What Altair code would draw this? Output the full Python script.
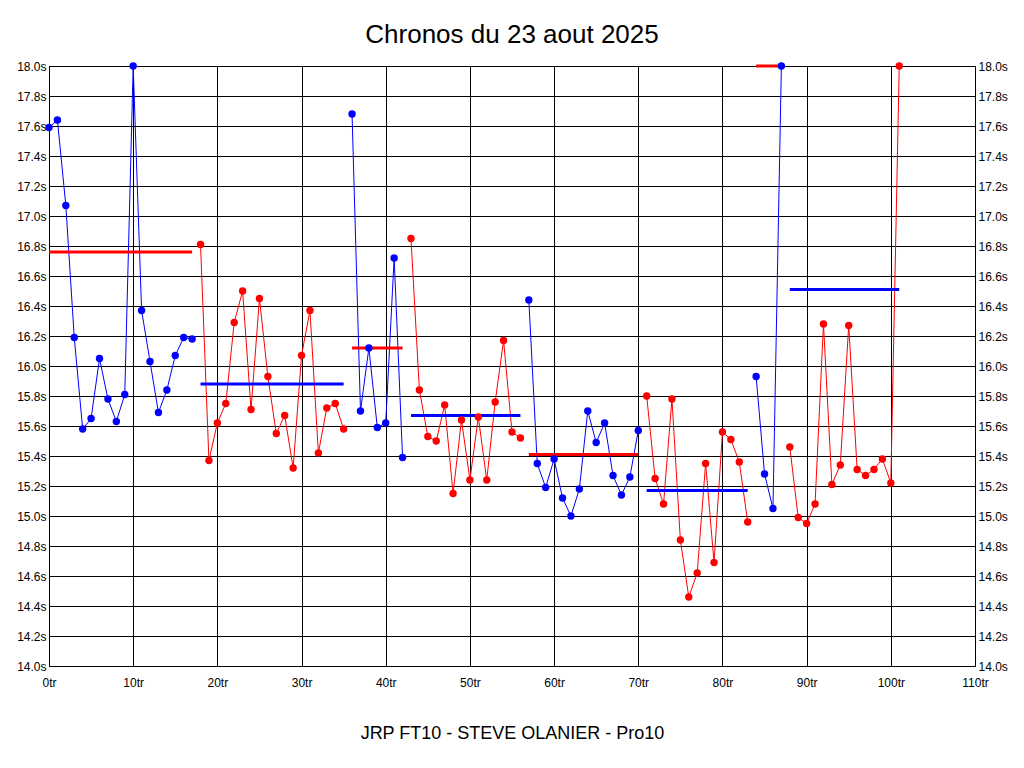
import altair as alt
import pandas as pd

# Lap times (s), displayed values (clipped at 18.0 s on the chart)
seg_laps = [
    list(range(0, 18)),
    list(range(18, 36)),
    list(range(36, 43)),
    list(range(43, 57)),
    list(range(57, 71)),
    list(range(71, 84)),
    list(range(84, 88)),
    list(range(88, 102)),
]
seg_colors = ["blue", "red", "blue", "red", "blue", "red", "blue", "red"]
seg_times = [
    [17.59, 17.64, 17.07, 16.19, 15.58, 15.65, 16.05, 15.78, 15.63, 15.81, 18.0, 16.37, 16.03, 15.69, 15.84, 16.07, 16.19, 16.18],
    [16.81, 15.37, 15.62, 15.75, 16.29, 16.50, 15.71, 16.45, 15.93, 15.55, 15.67, 15.32, 16.07, 16.37, 15.42, 15.72, 15.75, 15.58],
    [17.68, 15.70, 16.12, 15.59, 15.62, 16.72, 15.39],
    [16.85, 15.84, 15.53, 15.50, 15.74, 15.15, 15.64, 15.24, 15.66, 15.24, 15.76, 16.17, 15.56, 15.52],
    [16.44, 15.35, 15.19, 15.38, 15.12, 15.00, 15.18, 15.70, 15.49, 15.62, 15.27, 15.14, 15.26, 15.57],
    [15.80, 15.25, 15.08, 15.78, 14.84, 14.46, 14.62, 15.35, 14.69, 15.56, 15.51, 15.36, 14.96],
    [15.93, 15.28, 15.05, 18.0],
    [15.46, 14.99, 14.95, 15.08, 16.28, 15.21, 15.34, 16.27, 15.31, 15.27, 15.31, 15.38, 15.22, 18.0],
]
seg_avgs = [16.76, 15.88, 16.12, 15.67, 15.41, 15.17, 18.0, 16.51]

y_ticks = [round(14.0 + 0.2 * i, 1) for i in range(21)]
x_ticks = list(range(0, 111, 10))

rows = []
avg_rows = []
for i, (laps, times, col, avg) in enumerate(zip(seg_laps, seg_times, seg_colors, seg_avgs)):
    for lap, t in zip(laps, times):
        rows.append({"lap": lap, "time": t, "seg": i, "color": col})
    avg_rows.append({"start": laps[0], "end": laps[-1], "avg": avg,
                     "color": "red" if col == "blue" else "blue", "seg": i})
df = pd.DataFrame(rows)
dfa = pd.DataFrame(avg_rows)

FONT = "Liberation Sans"
color_scale = alt.Scale(domain=["blue", "red"], range=["#0000ff", "#ff0000"])
xs = alt.Scale(domain=[0, 110], nice=False, zero=False)
ys = alt.Scale(domain=[14.0, 18.0], nice=False, zero=False)

x_axis = alt.Axis(values=x_ticks, labelExpr="datum.value + 'tr'", grid=True, gridColor="#000000",
                  gridOpacity=1, gridWidth=1, ticks=False, domainColor="#000000", labelPadding=11,
                  labelFlush=False, labelFont=FONT, labelFontSize=12, labelColor="#000000",
                  title="JRP FT10 - STEVE OLANIER - Pro10", titleFont=FONT, titleFontSize=18,
                  titleFontWeight="normal", titleColor="#000000", titlePadding=36)
y_axis_left = alt.Axis(values=y_ticks, labelExpr="format(datum.value, '.1f') + 's'", grid=True,
                       gridColor="#000000", gridOpacity=1, gridWidth=1, ticks=False,
                       domainColor="#000000", labelPadding=3, labelFlush=False, labelFont=FONT,
                       labelFontSize=12, labelColor="#000000", title=None, orient="left")
y_axis_right = alt.Axis(values=y_ticks, labelExpr="format(datum.value, '.1f') + 's'", grid=False,
                        ticks=False, domainColor="#000000", labelPadding=3, labelFlush=False,
                        labelFont=FONT, labelFontSize=12, labelColor="#000000", title=None,
                        orient="right")

base = alt.Chart(df)
lines = base.mark_line(strokeWidth=1).encode(
    x=alt.X("lap:Q", scale=xs, axis=x_axis),
    y=alt.Y("time:Q", scale=ys, axis=y_axis_left),
    color=alt.Color("color:N", scale=color_scale, legend=None),
    detail="seg:N",
    order="lap:Q",
)
points = base.mark_point(filled=True, size=55, opacity=1, shape="circle").encode(
    x=alt.X("lap:Q", scale=xs),
    y=alt.Y("time:Q", scale=ys, axis=y_axis_right),
    color=alt.Color("color:N", scale=color_scale, legend=None),
)
avgs = alt.Chart(dfa).mark_rule(strokeWidth=3).encode(
    x=alt.X("start:Q", scale=xs),
    x2="end:Q",
    y=alt.Y("avg:Q", scale=ys, axis=None),
    color=alt.Color("color:N", scale=color_scale, legend=None),
)

chart = alt.layer(lines, avgs, points).resolve_scale(y="shared").resolve_axis(y="independent").properties(
    width=926,
    height=600,
    autosize=alt.AutoSizeParams(type="none"),
    padding={"left": 41, "top": 58, "right": 40, "bottom": 80},
    background="#ffffff",
    title=alt.TitleParams("Chronos du 23 aout 2025", font=FONT, fontSize=26, fontWeight="normal",
                          color="#000000", anchor="middle", offset=12),
).configure_view(stroke="#000000", strokeWidth=1)

chart.save("out.html", embed_options={"renderer": "svg", "actions": False})
